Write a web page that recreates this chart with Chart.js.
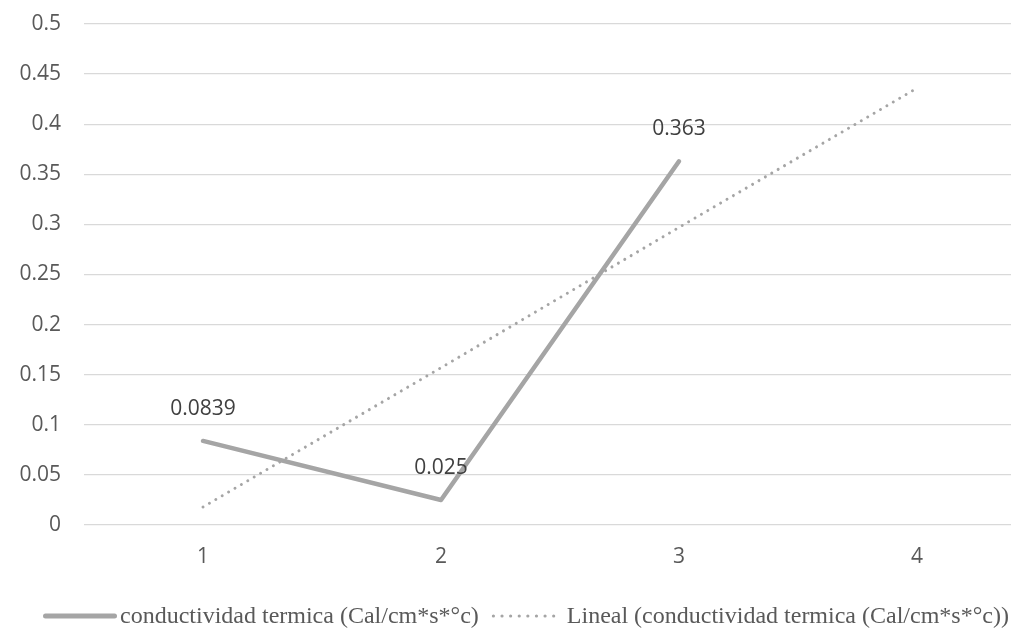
<!DOCTYPE html>
<html>
<head>
<meta charset="utf-8">
<script src="https://cdn.jsdelivr.net/npm/chart.js@4"></script>
<style>
  html, body { margin: 0; padding: 0; background: #fff; }
  #wrap { width: 1011px; height: 628px; overflow: hidden; position: relative; }
  canvas { display: block; }
</style>
</head>
<body>
<div id="wrap"><canvas id="chart" width="1036" height="628"></canvas></div>
<script>
const categories = ['1', '2', '3', '4'];
const conductividad = [0.0839, 0.025, 0.363, null];
const lineal = [0.018, 0.157, 0.297, 0.436];
const serieName = 'conductividad termica (Cal/cm*s*°c)';
const trendName = 'Lineal (conductividad termica (Cal/cm*s*°c))';

const axisFont = { family: 'Open Sans', size: 21 };

// value labels above the main series
const dataLabels = {
    id: 'dataLabels',
    afterDatasetsDraw(chart) {
        const ctx = chart.ctx;
        const meta = chart.getDatasetMeta(0);
        ctx.save();
        ctx.font = '21px "Open Sans"';
        ctx.fillStyle = '#404040';
        ctx.textAlign = 'center';
        ctx.textBaseline = 'middle';
        meta.data.forEach((pt, i) => {
            const v = conductividad[i];
            if (v == null) return;
            ctx.fillText(String(v), pt.x, pt.y - 32);
        });
        ctx.restore();
    }
};

// legend drawn like the Excel one: line samples + serif text
const excelLegend = {
    id: 'excelLegend',
    afterDraw(chart) {
        const ctx = chart.ctx;
        const y = 616;
        ctx.save();
        ctx.font = '24px "Liberation Serif"';
        ctx.fillStyle = '#595959';
        ctx.textBaseline = 'middle';
        let x = 43;
        // solid sample
        ctx.strokeStyle = '#a5a5a5';
        ctx.lineWidth = 5;
        ctx.lineCap = 'round';
        ctx.beginPath();
        ctx.moveTo(x + 2.5, y);
        ctx.lineTo(x + 71.5, y);
        ctx.stroke();
        x += 77;
        ctx.fillText(chart.data.datasets[0].label, x, y + 1);
        x += ctx.measureText(chart.data.datasets[0].label).width + 13;
        // dotted sample
        ctx.lineWidth = 3.2;
        ctx.setLineDash([0.01, 8.6]);
        ctx.beginPath();
        ctx.moveTo(x + 1.6, y);
        ctx.lineTo(x + 62, y);
        ctx.stroke();
        ctx.setLineDash([]);
        x += 75;
        ctx.fillText(chart.data.datasets[1].label, x, y + 1);
        ctx.restore();
    }
};

new Chart(document.getElementById('chart'), {
    type: 'line',
    data: {
        labels: categories,
        datasets: [
            {
                label: serieName,
                data: conductividad,
                borderColor: '#a5a5a5',
                borderWidth: 4.5,
                borderCapStyle: 'round',
                borderJoinStyle: 'round',
                pointRadius: 0,
                tension: 0,
                order: 2
            },
            {
                label: trendName,
                data: lineal,
                borderColor: '#a5a5a5',
                borderWidth: 3,
                borderDash: [0.01, 7.4],
                borderCapStyle: 'round',
                pointRadius: 0,
                tension: 0,
                order: 1
            }
        ]
    },
    options: {
        responsive: false,
        animation: false,
        layout: { padding: { top: 24, right: 0, left: 0, bottom: 0 } },
        plugins: {
            legend: { display: false },
            tooltip: { enabled: false }
        },
        scales: {
            x: {
                offset: true,
                grid: { display: false, drawTicks: false },
                border: { display: false },
                ticks: { color: '#595959', font: axisFont, padding: 19 },
                afterFit(scale) { scale.height = 103; }
            },
            y: {
                min: 0,
                max: 0.5,
                grid: { color: '#d9d9d9', lineWidth: 1.3, drawTicks: false },
                border: { display: false },
                ticks: {
                    stepSize: 0.05,
                    color: '#595959',
                    font: axisFont,
                    padding: 23,
                    callback: v => String(+v.toFixed(2))
                },
                afterFit(scale) {
                    scale.width = 84;
                    scale.paddingTop = 0;
                    scale.paddingBottom = 0;
                }
            }
        }
    },
    plugins: [dataLabels, excelLegend]
});
</script>
</body>
</html>
